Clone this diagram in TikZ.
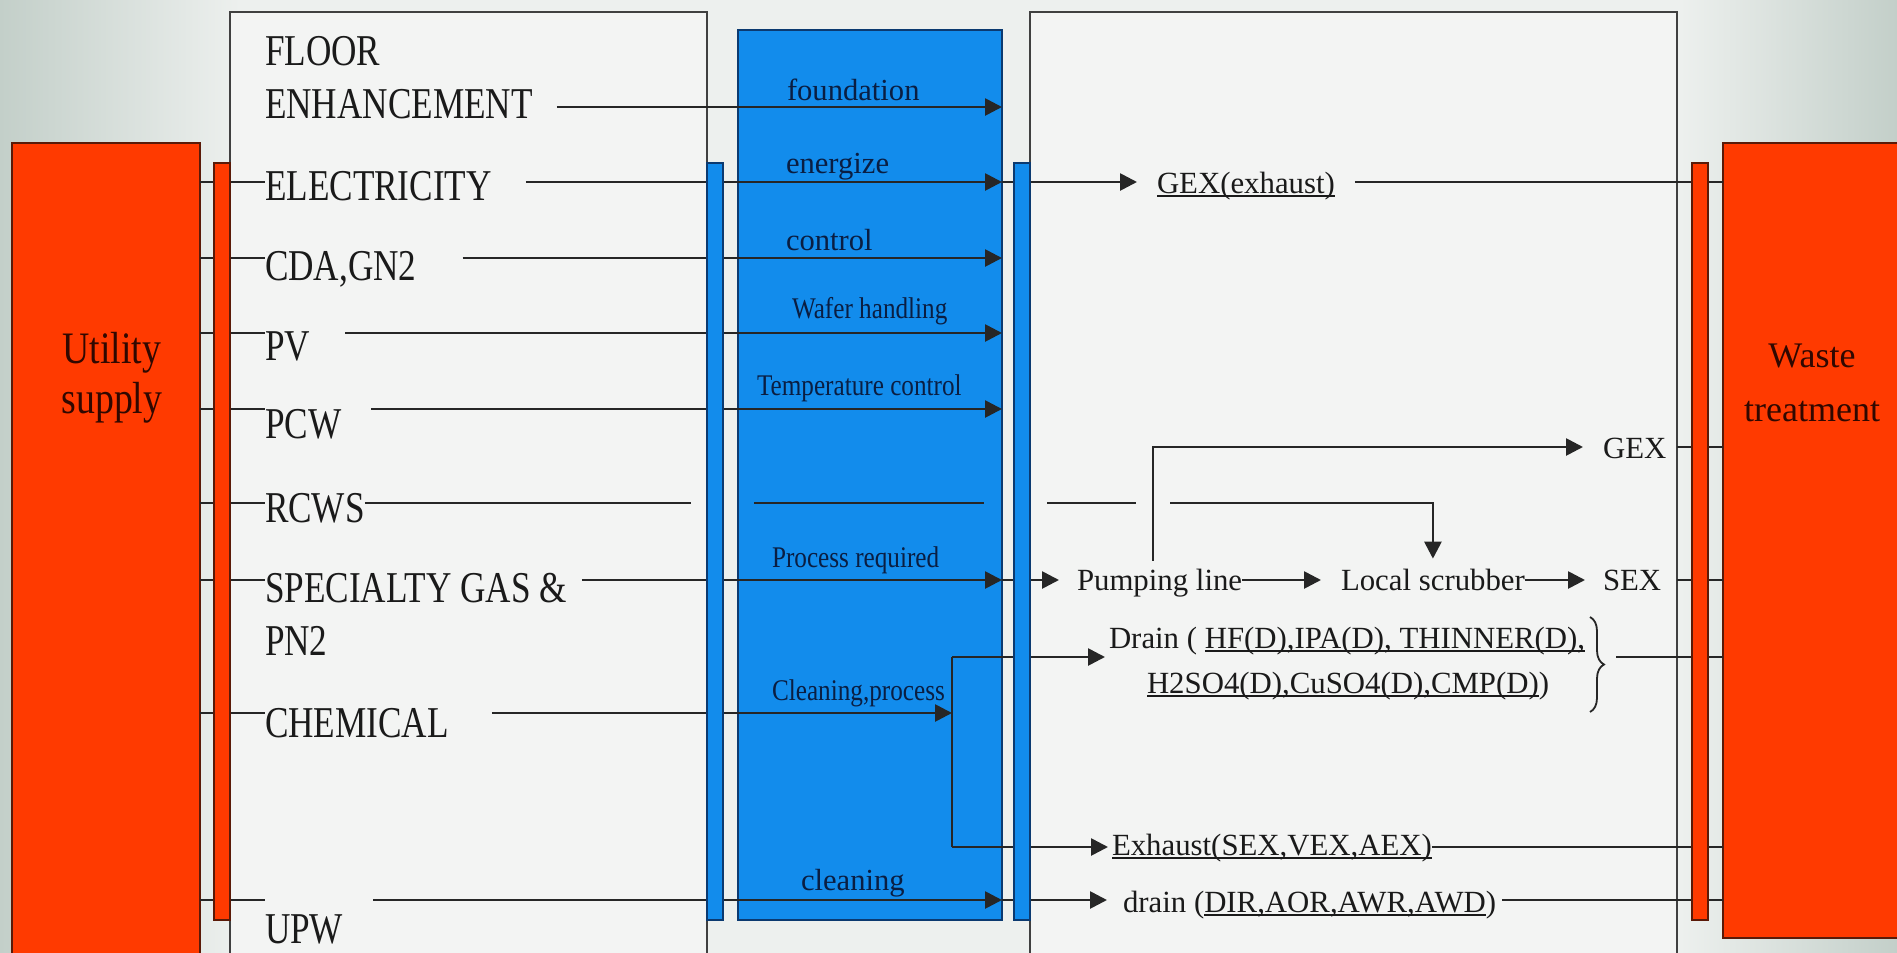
\documentclass[tikz,border=0pt]{standalone}
\usepackage{fontspec}
\setmainfont{Liberation Serif}
\newfontfamily\condA{Liberation Serif}[FakeStretch=0.80]
\newfontfamily\condB{Liberation Serif}[FakeStretch=0.84]
\newcommand{\myul}[1]{\setbox0\hbox{#1}\rlap{\rule[-2pt]{\wd0}{0.9pt}}\box0}
\usetikzlibrary{arrows.meta,decorations.pathreplacing}
\definecolor{redfill}{HTML}{FF3A00}
\definecolor{redline}{HTML}{5A1A08}
\definecolor{bluefill}{HTML}{128CEC}
\definecolor{blueline}{HTML}{0B3A70}
\definecolor{navy}{HTML}{0A1E42}
\definecolor{linec}{HTML}{262626}
\definecolor{bgc}{HTML}{EDF0EE}
\definecolor{boxbg}{HTML}{F3F4F3}
\definecolor{edgec}{HTML}{C3CFC9}
\definecolor{txt}{HTML}{1A1A1A}
\definecolor{redtxt}{HTML}{300800}
\tikzset{
  blk/.style={rectangle, inner sep=0pt, outer sep=0pt, anchor=north west},
  redbox/.style={blk, fill=redfill, draw=redline, line width=0.8pt},
  bluebox/.style={blk, fill=bluefill, draw=blueline, line width=0.8pt},
  whitebox/.style={blk, fill=boxbg, draw=black!75, line width=0.8pt},
  conn/.style={draw=linec, line width=1.35pt},
  arr/.style={conn, -{Triangle[length=8.5pt,width=8.5pt]}},
  lbl/.style={anchor=base west, inner sep=0pt, outer sep=0pt, text=txt, font=\condA\fontsize{22}{26}\selectfont},
  bigb/.style={anchor=base west, inner sep=0pt, outer sep=0pt, text=navy, font=\fontsize{15.3}{18}\selectfont},
  smallb/.style={anchor=base west, inner sep=0pt, outer sep=0pt, text=navy, font=\condB\fontsize{15}{18}\selectfont},
  rlbl/.style={anchor=base west, inner sep=0pt, outer sep=0pt, text=txt, font=\fontsize{15.4}{18}\selectfont},
  sidetxt/.style={anchor=base, inner sep=0pt, outer sep=0pt, text=redtxt},
}
\begin{document}
\begin{tikzpicture}[x=0.5pt,y=-0.5pt]
\useasboundingbox (0,0) rectangle (1897,953);
\clip (0,0) rectangle (1897,953);
% background
\fill[bgc] (0,0) rectangle (1897,953);
\shade[left color=edgec, right color=bgc] (0,0) rectangle (240,953);
\shade[left color=bgc, right color=edgec] (1680,0) rectangle (1897,953);
% big boxes
\node[whitebox, minimum width=238.5pt, minimum height=490pt] (lbox) at (230,12) {};
\node[whitebox, minimum width=323.5pt, minimum height=490pt] (rbox) at (1030,12) {};
\node[bluebox, minimum width=132pt, minimum height=445pt] (bbox) at (738,30) {};
\node[redbox, minimum width=94pt, minimum height=416pt] (util) at (12,143) {};
\node[redbox, minimum width=100pt, minimum height=397.5pt] (waste) at (1723,143) {};
% row levels
\coordinate (yF) at (0,107);
\coordinate (yE) at (0,182);
\coordinate (yC) at (0,258);
\coordinate (yP) at (0,333);
\coordinate (yW) at (0,409);
\coordinate (yG) at (0,447);
\coordinate (yR) at (0,503);
\coordinate (yS) at (0,580);
\coordinate (yD) at (0,657);
\coordinate (yX) at (0,713);
\coordinate (yA) at (0,847);
\coordinate (yU) at (0,900);
\coordinate (pjx) at (1153,0);
\coordinate (cjx) at (952,0);
\coordinate (brx) at (1616,0);
\coordinate (brT) at (1590,617);
\coordinate (brB) at (1590,712);
% left labels
\node[lbl] (floor) at (265,65) {FLOOR};
\node[lbl] (enh) at (265,118) {ENHANCEMENT};
\node[lbl] (elec) at (265,200) {ELECTRICITY};
\node[lbl] (cda) at (265,280) {CDA,GN2};
\node[lbl] (pv) at (265,360) {PV};
\node[lbl] (pcw) at (265,438) {PCW};
\node[lbl] (rcws) at (265,522) {RCWS};
\node[lbl] (spec) at (265,602) {SPECIALTY GAS \&};
\node[lbl] (pn2) at (265,655) {PN2};
\node[lbl] (chem) at (265,737) {CHEMICAL};
\node[lbl] (upw) at (265,943) {UPW};
% blue box labels
\node[bigb] (fnd) at (787,100) {foundation};
\node[bigb] (eng) at (786,173) {energize};
\node[bigb] (ctl) at (786,250) {control};
\node[smallb] (wfr) at (792,318) {Wafer handling};
\node[smallb] (tmp) at (757,395) {Temperature control};
\node[smallb] (prq) at (772,567) {Process required};
\node[smallb] (clp) at (772,700) {Cleaning,process};
\node[bigb] (cln) at (801,890) {cleaning};
% right labels
\node[rlbl] (gexx) at (1157,193) {\myul{GEX(exhaust)}};
\node[rlbl] (gex) at (1603,458) {GEX};
\node[rlbl] (pump) at (1077,590) {Pumping line};
\node[rlbl] (scrub) at (1341,590) {Local scrubber};
\node[rlbl] (sex) at (1603,590) {SEX};
\node[rlbl] (drainA) at (1109,648) {Drain ( \myul{HF(D),IPA(D), THINNER(D),}};
\node[rlbl] (drainB) at (1147,693) {\myul{H2SO4(D),CuSO4(D),CMP(D)})};
\node[rlbl] (exh) at (1112,855) {\myul{Exhaust(SEX,VEX,AEX)}};
\node[rlbl] (drn) at (1123,912) {drain (\myul{DIR,AOR,AWR,AWD})};
% left stubs
\foreach \r/\l in {yE/elec, yC/cda, yP/pv, yW/pcw, yR/rcws, yS/spec, yX/chem, yU/upw}
  \draw[conn] (util.east |- \r) -- (\l.west |- \r);
% arrows into the tool
\draw[arr] ([xshift=12pt]enh.east |- yF) -- (bbox.east |- yF);
\draw[arr] ([xshift=17pt]elec.east |- yE) -- (bbox.east |- yE);
\draw[arr] ([xshift=23pt]cda.east |- yC) -- (bbox.east |- yC);
\draw[arr] ([xshift=17.5pt]pv.east |- yP) -- (bbox.east |- yP);
\draw[arr] ([xshift=15pt]pcw.east |- yW) -- (bbox.east |- yW);
\draw[arr] ([xshift=7.5pt]spec.east |- yS) -- (bbox.east |- yS);
\draw[arr] ([xshift=21.5pt]chem.east |- yX) -- (cjx |- yX);
\draw[arr] ([xshift=15pt]upw.east |- yU) -- (bbox.east |- yU);
% RCWS
\draw[conn] (rcws.east |- yR) -- ([xshift=-8pt]lbox.east |- yR);
\draw[conn] ([xshift=8pt]bbox.west |- yR) -- ([xshift=-9pt]bbox.east |- yR);
\draw[conn] ([xshift=8.5pt]rbox.west |- yR) -- ([xshift=-8.5pt]pjx |- yR);
\draw[arr] ([xshift=8.5pt]pjx |- yR) -| ([yshift=5pt]scrub.north);
% outputs
\draw[arr] (bbox.east |- yE) -- ([xshift=-10pt]gexx.west |- yE);
\draw[conn] ([xshift=10pt]gexx.east |- yE) -- (waste.west |- yE);
\draw[arr] (bbox.east |- yS) -- ([xshift=-9pt]pump.west |- yS);
\draw[arr] (pump.east |- yS) -- ([xshift=-10pt]scrub.west |- yS);
\draw[arr] (scrub.east |- yS) -- ([xshift=-9pt]sex.west |- yS);
\draw[conn] (rbox.east |- yS) -- (waste.west |- yS);
\draw[arr] ([yshift=4pt]pump.north -| pjx) |- ([xshift=-10pt]gex.west |- yG);
\draw[conn] (rbox.east |- yG) -- (waste.west |- yG);
\draw[conn] (cjx |- yD) -- (cjx |- yA);
\draw[arr] (cjx |- yD) -- ([xshift=-2pt]drainA.west |- yD);
\draw[arr] (cjx |- yA) -- ([xshift=-2pt]exh.west |- yA);
\draw[conn, line width=0.9pt, decorate, decoration={brace, amplitude=7pt}] (brT) -- (brB);
\draw[conn] (brx |- yD) -- (waste.west |- yD);
\draw[conn] (exh.east |- yA) -- (waste.west |- yA);
\draw[arr] (bbox.east |- yU) -- ([xshift=-8pt]drn.west |- yU);
\draw[conn] ([xshift=3pt]drn.east |- yU) -- (waste.west |- yU);
% thin bars
\node[redbox, minimum width=8pt, minimum height=378.5pt] (lbar) at (214,163) {};
\node[bluebox, minimum width=8pt, minimum height=378.5pt] (lbbar) at (707,163) {};
\node[bluebox, minimum width=8pt, minimum height=378.5pt] (rbbar) at (1014,163) {};
\node[redbox, minimum width=8pt, minimum height=378.5pt] (rbar) at (1692,163) {};
% side texts
\node[sidetxt, font=\condB\fontsize{22.5}{25}\selectfont] (ut1) at (112,363) {Utility};
\node[sidetxt, font=\condB\fontsize{22.5}{25}\selectfont] (ut2) at (112,413) {supply};
\node[sidetxt, font=\fontsize{18}{22}\selectfont] (wt1) at (1812,367) {Waste};
\node[sidetxt, font=\fontsize{18}{22}\selectfont] (wt2) at (1812,421) {treatment};
\end{tikzpicture}
\end{document}
